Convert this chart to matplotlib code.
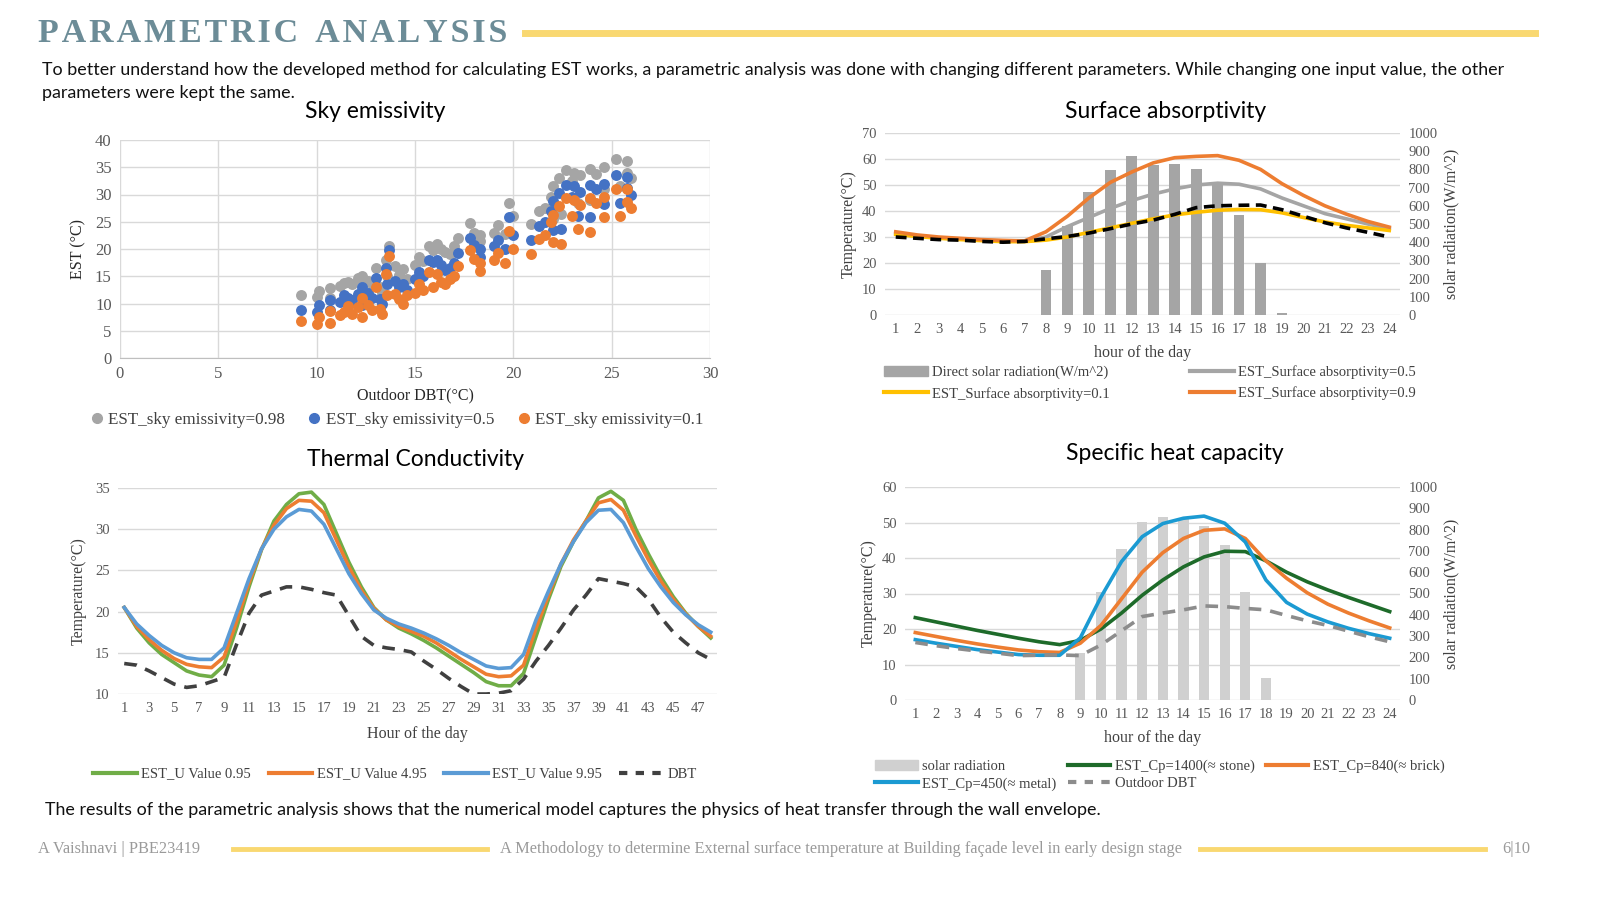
# =========================================================
#        PARAMETRIC ANALYSIS - EST slide (4 charts)
# =========================================================

import numpy as np
import matplotlib.pyplot as plt
from matplotlib.lines import Line2D
from matplotlib.patches import Patch

W, H = 1600, 900
SERIF = "Liberation Serif"
SANS = "Lato"
GRID = "#D9D9D9"
TICK = "#595959"

# =========================================================
# DATA - Sky emissivity (scatter)
# =========================================================

sky_dbt = [9.2, 10.0, 10.1, 10.7, 10.7, 11.2, 11.4, 11.6, 11.8, 12.1, 12.3, 12.3,
           12.6, 12.8, 13.0, 13.2, 13.3, 13.5, 13.6, 13.7, 14.0, 14.2, 14.4, 14.6,
           15.0, 15.2, 15.4, 15.7, 15.9, 16.1, 16.3, 16.5, 16.8, 17.0, 17.2, 17.8,
           18.0, 18.3, 18.3, 19.0, 19.2, 19.6, 19.8, 20.0, 20.9, 21.3, 21.6, 21.9,
           22.0, 22.0, 22.3, 22.4, 22.7, 23.0, 23.1, 23.3, 23.4, 23.9, 23.9, 24.2,
           24.6, 24.6, 25.2, 25.4, 25.8, 25.8, 26.0]
sky_098 = [11.5, 11.2, 12.3, 12.9, 11.0, 13.2, 13.8, 14.0, 13.5, 14.6, 15.0, 12.0,
           14.2, 13.5, 16.5, 13.0, 12.0, 18.0, 15.0, 20.5, 16.8, 15.2, 16.3, 14.5,
           17.0, 18.5, 17.8, 20.6, 19.8, 21.0, 20.0, 19.5, 19.0, 20.5, 22.0, 24.7,
           23.0, 22.5, 21.5, 23.0, 24.4, 22.7, 28.5, 26.0, 24.5, 27.0, 27.5, 29.5,
           31.5, 25.5, 33.0, 26.5, 34.5, 32.5, 34.0, 28.5, 33.5, 34.6, 29.0, 33.8,
           35.0, 31.0, 36.5, 31.5, 36.2, 34.0, 33.0]
sky_05 = [8.8, 8.5, 9.8, 10.6, 8.8, 10.2, 11.5, 11.0, 10.7, 11.8, 13.0, 9.8,
          12.0, 11.0, 14.6, 10.8, 10.0, 16.5, 13.5, 19.8, 14.2, 13.0, 13.5, 12.5,
          14.5, 15.8, 15.0, 18.0, 17.6, 18.0, 17.0, 16.2, 16.5, 17.5, 19.2, 22.0,
          20.8, 20.0, 18.5, 20.5, 21.7, 20.0, 25.8, 22.5, 21.7, 24.3, 25.0, 27.0,
          28.8, 23.5, 30.3, 23.7, 31.8, 29.5, 31.5, 26.0, 30.5, 31.8, 25.8, 31.0,
          32.0, 28.2, 33.5, 28.5, 33.2, 31.2, 30.0]
sky_01 = [6.8, 6.3, 7.5, 8.6, 6.4, 7.8, 8.5, 9.5, 8.0, 9.3, 11.0, 7.6,
          9.8, 8.8, 13.0, 9.0, 8.0, 15.5, 11.5, 18.8, 11.8, 10.8, 10.0, 11.5,
          12.0, 13.5, 12.5, 15.7, 13.0, 15.5, 14.0, 13.6, 14.5, 15.0, 16.8, 19.8,
          18.2, 17.5, 16.0, 18.0, 19.3, 17.5, 23.3, 20.0, 19.1, 21.8, 22.5, 25.0,
          26.3, 21.3, 27.8, 21.0, 29.3, 26.0, 29.0, 23.7, 28.0, 29.3, 23.2, 28.5,
          29.5, 25.8, 31.0, 26.0, 31.0, 28.7, 27.5]

# =========================================================
# DATA - Surface absorptivity (24 h)
# =========================================================

hours24 = list(range(1, 25))
abs_radiation = [0, 0, 0, 0, 0, 0, 0, 250, 490, 676, 794, 875,
                 825, 830, 803, 730, 548, 283, 10, 0, 0, 0, 0, 0]
abs_05 = [31.5, 30.5, 29.7, 29.2, 28.8, 28.5, 28.3, 30.0, 34.0, 37.5, 41.0, 44.0,
          46.5, 48.5, 50.0, 50.7, 50.3, 48.5, 45.0, 42.0, 39.0, 37.0, 35.0, 33.2]
abs_01 = [31.0, 30.2, 29.5, 29.0, 28.6, 28.2, 28.2, 28.8, 30.0, 31.8, 33.5, 35.3,
          37.0, 38.5, 39.5, 40.3, 40.6, 40.5, 39.3, 37.5, 35.8, 34.5, 33.5, 32.5]
abs_09 = [32.0, 30.8, 30.0, 29.5, 29.0, 28.7, 28.5, 32.0, 38.0, 45.0, 51.0, 55.0,
          58.5, 60.5, 61.0, 61.3, 59.5, 56.0, 50.5, 46.0, 42.0, 38.8, 36.0, 33.8]
abs_black = [30.0, 29.5, 29.0, 28.8, 28.3, 28.0, 28.3, 29.3, 30.2, 31.5, 33.2, 35.0,
             36.5, 38.7, 41.3, 42.0, 42.2, 42.3, 40.5, 38.0, 35.5, 33.5, 31.8, 30.0]

# =========================================================
# DATA - Thermal conductivity (48 h)
# =========================================================

hours48 = list(range(1, 49))
u_095 = [20.5, 18.0, 16.2, 14.8, 13.8, 12.8, 12.3, 12.1, 13.5, 18.0, 23.0, 27.5,
         31.0, 33.0, 34.3, 34.5, 33.0, 29.5, 26.0, 23.0, 20.5, 19.0, 18.0, 17.3,
         16.5, 15.6, 14.6, 13.6, 12.6, 11.5, 11.0, 11.0, 12.5, 17.0, 21.5, 25.5,
         28.5, 31.0, 33.8, 34.6, 33.5, 30.0, 27.0, 24.2, 21.8, 19.8, 18.2, 16.8]
u_495 = [20.5, 18.2, 16.6, 15.3, 14.3, 13.6, 13.3, 13.2, 14.5, 18.8, 23.5, 27.6,
         30.5, 32.5, 33.5, 33.4, 32.0, 28.7, 25.4, 22.6, 20.4, 19.0, 18.2, 17.6,
         17.0, 16.2, 15.2, 14.2, 13.3, 12.4, 12.1, 12.2, 13.5, 18.0, 22.0, 25.8,
         28.7, 31.0, 33.2, 33.6, 32.3, 29.2, 26.3, 23.7, 21.5, 19.7, 18.2, 17.0]
u_995 = [20.5, 18.5, 17.1, 15.9, 15.0, 14.4, 14.2, 14.2, 15.6, 19.8, 24.0, 27.6,
         30.0, 31.5, 32.4, 32.2, 30.6, 27.6, 24.6, 22.2, 20.2, 19.2, 18.5, 18.0,
         17.4, 16.7, 15.9, 15.0, 14.2, 13.4, 13.1, 13.2, 14.8, 19.0, 22.5, 25.8,
         28.5, 30.8, 32.3, 32.4, 30.8, 27.9, 25.2, 23.0, 21.1, 19.6, 18.4, 17.5]
u_dbt = [13.7, 13.5, 12.8, 12.0, 11.2, 10.8, 11.0, 11.5, 12.0, 16.0, 19.8, 22.0,
         22.5, 23.0, 23.0, 22.7, 22.3, 22.0, 19.5, 17.0, 15.9, 15.6, 15.4, 15.1,
         14.0, 13.0, 11.9, 10.9, 10.0, 10.0, 10.1, 10.4, 11.8, 14.0, 15.9, 18.0,
         20.2, 22.0, 24.0, 23.7, 23.4, 23.0, 21.5, 19.3, 17.5, 16.2, 15.0, 14.2]

# =========================================================
# DATA - Specific heat capacity (24 h)
# =========================================================

cp_radiation = [0, 0, 0, 0, 0, 0, 0, 0, 220, 508, 707, 837,
                860, 850, 816, 727, 508, 104, 0, 0, 0, 0, 0, 0]
cp_1400 = [23.2, 22.0, 20.8, 19.6, 18.5, 17.4, 16.4, 15.6, 16.8, 20.0, 24.5, 29.5,
           33.8, 37.5, 40.3, 41.9, 41.8, 39.2, 36.0, 33.3, 31.0, 28.9, 26.9, 24.9]
cp_840 = [19.0, 17.9, 16.8, 15.8, 14.9, 14.1, 13.6, 13.4, 16.0, 21.0, 28.5, 36.0,
          41.5, 45.5, 47.8, 48.2, 45.5, 39.2, 34.3, 30.2, 27.0, 24.5, 22.3, 20.3]
cp_450 = [17.0, 16.0, 15.1, 14.2, 13.5, 12.8, 12.6, 12.6, 17.5, 29.0, 39.0, 46.0,
          49.7, 51.2, 51.8, 49.8, 44.5, 33.8, 27.5, 24.2, 22.0, 20.2, 18.7, 17.4]
cp_dbt = [16.2, 15.3, 14.5, 13.8, 13.2, 12.5, 12.6, 12.7, 12.5, 15.5, 19.5, 23.5,
          24.5, 25.4, 26.5, 26.3, 25.8, 25.4, 23.8, 22.3, 21.0, 19.4, 17.8, 16.4]

# =========================================================
# HELPERS
# =========================================================

def rect(l, t, r, b):
    return [l / W, 1 - b / H, (r - l) / W, (b - t) / H]


def fx(x):
    return x / W


def fy(y):
    return 1 - y / H


def style_axes(ax, size=10):
    for s in ax.spines.values():
        s.set_visible(False)
    ax.tick_params(length=0, labelsize=size, labelcolor=TICK, pad=6)
    for lab in ax.get_xticklabels() + ax.get_yticklabels():
        lab.set_fontfamily(SERIF)


def add_legend(ax, handles, labels, cx, cy, ncol, size=10.5, **kw):
    leg = ax.legend(handles, labels, loc="center", bbox_to_anchor=(fx(cx), fy(cy)),
                    bbox_transform=fig.transFigure, ncol=ncol, frameon=False,
                    prop={"family": SERIF, "size": size}, labelcolor="#404040",
                    handletextpad=0.3, borderaxespad=0, **kw)
    return leg


fig = plt.figure(figsize=(16, 9), dpi=100)

# =========================================================
# HEADER / TEXT
# =========================================================

title = "\u200a".join("PARAMETRIC") + "\u2002" + "\u200a".join("ANALYSIS")
fig.text(fx(38), fy(33), title, family=[SERIF, "DejaVu Serif"], weight="bold",
         size=24.5, color="#6C8C97", va="center", ha="left")
fig.add_artist(Line2D([fx(525), fx(1535)], [fy(33), fy(33)], color="#F9D871", lw=5))

BODY = 12.85
fig.text(fx(42), fy(70), "To better understand how the developed method for calculating EST works, "
         "a parametric analysis was done with changing different parameters. While changing "
         "one input value, the other", family=SANS, size=BODY, va="center", color="#111111")
fig.text(fx(42), fy(93), "parameters were kept the same.", family=SANS, size=BODY,
         va="center", color="#111111")
fig.text(fx(45), fy(810), "The results of the parametric analysis shows that the numerical model "
         "captures the physics of heat transfer through the wall envelope.",
         family=SANS, size=BODY, va="center", color="#111111")

TSIZE = 16.5
fig.text(fx(375), fy(111), "Sky emissivity", family=SANS, size=TSIZE, ha="center", va="center")
fig.text(fx(1166), fy(111), "Surface absorptivity", family=SANS, size=TSIZE, ha="center", va="center")
fig.text(fx(415), fy(459), "Thermal Conductivity", family=SANS, size=TSIZE, ha="center", va="center")
fig.text(fx(1175), fy(454), "Specific heat capacity", family=SANS, size=TSIZE, ha="center", va="center")

# footer
FOOT = "#9A9A9A"
fig.text(fx(38), fy(849), "A Vaishnavi | PBE23419", family=SERIF, size=11.8, color=FOOT, va="center")
fig.add_artist(Line2D([fx(233), fx(487)], [fy(849), fy(849)], color="#F9D871", lw=3.5))
fig.text(fx(500), fy(849), "A Methodology to determine External surface temperature at Building "
         "façade level in early design stage", family=SERIF, size=11.8, color=FOOT, va="center")
fig.add_artist(Line2D([fx(1200), fx(1485)], [fy(849), fy(849)], color="#F9D871", lw=3.5))
fig.text(fx(1530), fy(849), "6|10", family=SERIF, size=11.8, color=FOOT, va="center", ha="right")

# =========================================================
# SKY EMISSIVITY - scatter
# =========================================================

ax1 = fig.add_axes(rect(120, 140, 710, 358))
ms = 62
ax1.scatter(sky_dbt, sky_098, s=ms, color="#A5A5A5", zorder=3, linewidths=0)
ax1.scatter(sky_dbt, sky_05, s=ms, color="#4472C4", zorder=4, linewidths=0)
ax1.scatter(sky_dbt, sky_01, s=ms, color="#ED7D31", zorder=5, linewidths=0)
ax1.set_xlim(0, 30)
ax1.set_ylim(0, 40)
ax1.set_xticks(range(0, 31, 5))
ax1.set_yticks(range(0, 41, 5))
ax1.grid(True, color=GRID, lw=1)
ax1.set_axisbelow(True)
style_axes(ax1, size=12)
ax1.spines["bottom"].set_visible(True)
ax1.spines["bottom"].set_color("#BFBFBF")
ax1.set_xlabel("Outdoor DBT(°C)", family=SERIF, size=11.5, color="#262626", labelpad=4)
ax1.set_ylabel("EST (°C)", family=SERIF, size=11.5, color="#262626", labelpad=6)
h = [Line2D([], [], ls="", marker="o", ms=7, color=c) for c in ("#A5A5A5", "#4472C4", "#ED7D31")]
add_legend(ax1, h, ["EST_sky emissivity=0.98", "EST_sky emissivity=0.5", "EST_sky emissivity=0.1"],
           397, 420, 3, size=12.3, columnspacing=1.4, handlelength=0.7)

# =========================================================
# SURFACE ABSORPTIVITY
# =========================================================

ax2 = fig.add_axes(rect(885, 133, 1400, 315))
tw2 = ax2.twinx()
temp_ticks2 = list(range(0, 71, 10))
for v in temp_ticks2:
    tw2.axhline(v * 1000 / 70, color=GRID, lw=1, zorder=0)
tw2.bar(hours24, abs_radiation, width=0.5, color="#A5A5A5", zorder=2)
tw2.set_ylim(0, 1000)
tw2.set_yticks(range(0, 1001, 100))
ax2.set_zorder(tw2.get_zorder() + 1)
ax2.patch.set_visible(False)
lw = 2.6
ax2.plot(hours24, abs_05, color="#A5A5A5", lw=lw)
ax2.plot(hours24, abs_01, color="#FFC000", lw=lw)
ax2.plot(hours24, abs_09, color="#ED7D31", lw=lw)
ax2.plot(hours24, abs_black, color="black", lw=lw, ls=(0, (3, 1.8)))
ax2.set_xlim(0.5, 24.5)
ax2.set_ylim(0, 70)
ax2.set_yticks(temp_ticks2)
ax2.set_xticks(hours24)
style_axes(ax2, 10.5)
style_axes(tw2, 10.5)
ax2.set_xlabel("hour of the day", family=SERIF, size=11.5, color="#404040", labelpad=6)
ax2.set_ylabel("Temperature(°C)", family=SERIF, size=11.5, color="#404040", labelpad=4)
tw2.set_ylabel("solar radiation(W/m^2)", family=SERIF, size=11.5, color="#404040", labelpad=4)
h = [Patch(color="#A5A5A5"), Line2D([], [], color="#FFC000", lw=3),
     Line2D([], [], color="#A5A5A5", lw=3), Line2D([], [], color="#ED7D31", lw=3)]
add_legend(ax2, h, ["Direct solar radiation(W/m^2)", "EST_Surface absorptivity=0.1",
                    "EST_Surface absorptivity=0.5", "EST_Surface absorptivity=0.9"],
           1150, 383, 2, columnspacing=5.5, handlelength=3.0, labelspacing=0.5)

# =========================================================
# THERMAL CONDUCTIVITY
# =========================================================

ax3 = fig.add_axes(rect(118, 488, 717, 694))
ax3.plot(hours48, u_095, color="#70AD47", lw=lw)
ax3.plot(hours48, u_495, color="#ED7D31", lw=lw)
ax3.plot(hours48, u_995, color="#5B9BD5", lw=lw)
ax3.plot(hours48, u_dbt, color="#404040", lw=lw, ls=(0, (3.5, 2.5)))
ax3.set_xlim(0.5, 48.5)
ax3.set_ylim(10, 35)
ax3.set_yticks(range(10, 36, 5))
ax3.set_xticks(hours48[::2])
ax3.grid(True, axis="y", color=GRID, lw=1)
ax3.set_axisbelow(True)
style_axes(ax3, 10.5)
ax3.set_xlabel("Hour of the day", family=SERIF, size=11.5, color="#404040", labelpad=8)
ax3.set_ylabel("Temperature(°C)", family=SERIF, size=11.5, color="#404040", labelpad=6)
h = [Line2D([], [], color="#70AD47", lw=3), Line2D([], [], color="#ED7D31", lw=3),
     Line2D([], [], color="#5B9BD5", lw=3), Line2D([], [], color="#404040", lw=3, ls=(0, (2, 2)))]
add_legend(ax3, h, ["EST_U Value 0.95", "EST_U Value 4.95", "EST_U Value 9.95", "DBT"],
           395, 774, 4, columnspacing=1.2, handlelength=3.0)

# =========================================================
# SPECIFIC HEAT CAPACITY
# =========================================================

ax4 = fig.add_axes(rect(905, 487, 1400, 700))
tw4 = ax4.twinx()
temp_ticks4 = list(range(0, 61, 10))
for v in temp_ticks4:
    tw4.axhline(v * 1000 / 60, color=GRID, lw=1, zorder=0)
tw4.bar(hours24, cp_radiation, width=0.5, color="#D0D0D0", zorder=2)
tw4.set_ylim(0, 1000)
tw4.set_yticks(range(0, 1001, 100))
ax4.set_zorder(tw4.get_zorder() + 1)
ax4.patch.set_visible(False)
ax4.plot(hours24, cp_1400, color="#1E6B2A", lw=lw)
ax4.plot(hours24, cp_840, color="#ED7D31", lw=lw)
ax4.plot(hours24, cp_450, color="#1B9AD2", lw=lw)
ax4.plot(hours24, cp_dbt, color="#8C8C8C", lw=lw, ls=(0, (3.5, 2.5)))
ax4.set_xlim(0.5, 24.5)
ax4.set_ylim(0, 60)
ax4.set_yticks(temp_ticks4)
ax4.set_xticks(hours24)
style_axes(ax4, 10.5)
style_axes(tw4, 10.5)
ax4.set_xlabel("hour of the day", family=SERIF, size=11.5, color="#404040", labelpad=6)
ax4.set_ylabel("Temperature(°C)", family=SERIF, size=11.5, color="#404040", labelpad=4)
tw4.set_ylabel("solar radiation(W/m^2)", family=SERIF, size=11.5, color="#404040", labelpad=4)
h = [Patch(color="#D0D0D0"), Line2D([], [], color="#1B9AD2", lw=3),
     Line2D([], [], color="#1E6B2A", lw=3), Line2D([], [], color="#8C8C8C", lw=3, ls=(0, (2, 2))),
     Line2D([], [], color="#ED7D31", lw=3)]
add_legend(ax4, h, ["solar radiation", "EST_Cp=450(≈ metal)", "EST_Cp=1400(≈ stone)",
                    "Outdoor DBT", "EST_Cp=840(≈ brick)"],
           1160, 775, 3, columnspacing=0.8, handlelength=2.9, labelspacing=0.3)

fig.savefig("out.png", dpi=100)
